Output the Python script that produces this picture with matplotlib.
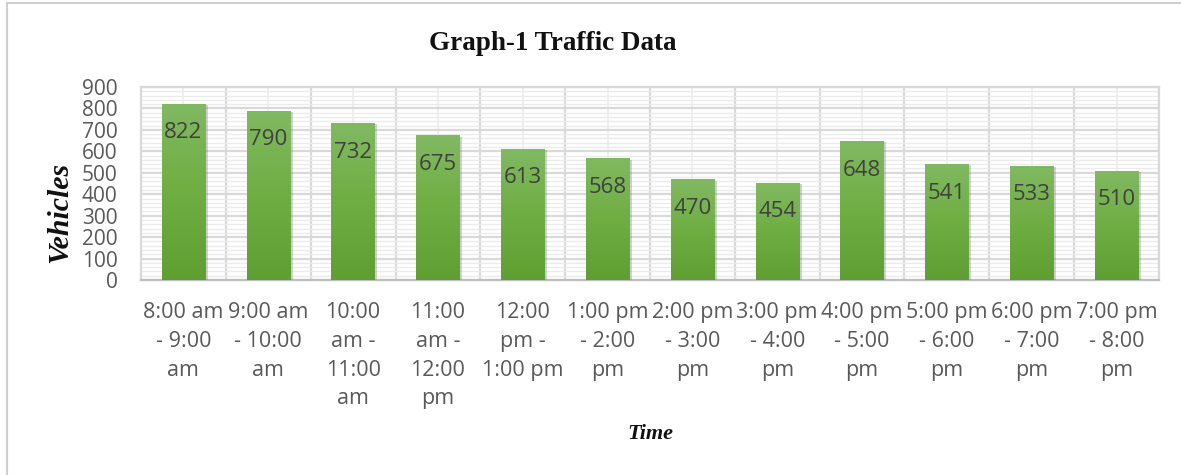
import matplotlib
matplotlib.use("Agg")
import matplotlib.pyplot as plt
import numpy as np
from matplotlib.lines import Line2D
from matplotlib.colors import LinearSegmentedColormap
import matplotlib.patheffects as pe

categories = ["8:00 am - 9:00 am", "9:00 am - 10:00 am", "10:00 am - 11:00 am",
              "11:00 am - 12:00 pm", "12:00 pm - 1:00 pm", "1:00 pm - 2:00 pm",
              "2:00 pm - 3:00 pm", "3:00 pm - 4:00 pm", "4:00 pm - 5:00 pm",
              "5:00 pm - 6:00 pm", "6:00 pm - 7:00 pm", "7:00 pm - 8:00 pm"]
tick_labels = ["8:00 am\n- 9:00\nam", "9:00 am\n- 10:00\nam", "10:00\nam -\n11:00\nam",
               "11:00\nam -\n12:00\npm", "12:00\npm -\n1:00 pm", "1:00 pm\n- 2:00\npm",
               "2:00 pm\n- 3:00\npm", "3:00 pm\n- 4:00\npm", "4:00 pm\n- 5:00\npm",
               "5:00 pm\n- 6:00\npm", "6:00 pm\n- 7:00\npm", "7:00 pm\n- 8:00\npm"]
vehicles = [822, 790, 732, 675, 613, 568, 470, 454, 648, 541, 533, 510]
y_ticks = [0, 100, 200, 300, 400, 500, 600, 700, 800, 900]

W, H = 1181, 475
fig = plt.figure(figsize=(W / 100, H / 100), dpi=100)
ax = fig.add_axes([141 / W, 1 - 280 / H, (1159 - 141) / W, (280 - 87) / H])

x = np.arange(len(categories))
cmap = LinearSegmentedColormap.from_list("g", ["#5f9e31", "#6fae42", "#81b962"])
bars = ax.bar(x, vehicles, width=0.51, color="#70b045", zorder=3,
              path_effects=[pe.SimplePatchShadow(offset=(2, -1), shadow_rgbFace="#808080", alpha=0.35), pe.Normal()])
grad = np.linspace(0, 1, 256).reshape(-1, 1)
for b in bars:
    x0, w, h = b.get_x(), b.get_width(), b.get_height()
    im = ax.imshow(grad, extent=[x0, x0 + w, 0, h], origin="lower", cmap=cmap,
                   aspect="auto", zorder=4)
    im.set_clip_path(b)

for xi, v in zip(x, vehicles):
    ax.annotate(str(v), (xi, v), xytext=(0, -21), textcoords="offset points",
                ha="center", va="center", fontsize=16, color="#404040",
                family="Open Sans", zorder=6)

ax.set_xlim(-0.5, len(categories) - 0.5)
ax.set_ylim(0, 900)
ax.set_yticks(y_ticks)
ax.set_yticks(np.arange(0, 901, 20), minor=True)
ax.set_xticks(x + 0.5, minor=False)
ax.set_xticklabels([])
ax.set_xticks(x, labels=tick_labels, minor=True)

ax.grid(True, which="major", axis="both", color="#d9d9d9", lw=1.6, zorder=0)
ax.grid(True, which="minor", axis="y", color="#ebebeb", lw=1.0, zorder=0)
ax.grid(True, which="minor", axis="x", color="#efefef", lw=1.4, zorder=0)
ax.set_axisbelow(True)

ax.tick_params(axis="both", which="both", length=0)
ax.tick_params(axis="y", labelsize=15, labelcolor="#595959", pad=17)
ax.tick_params(axis="x", which="minor", labelsize=15.5, labelcolor="#595959", pad=16)
for lab in ax.get_yticklabels() + ax.get_xticklabels(minor=True):
    lab.set_family("Open Sans")
for lab in ax.get_xticklabels(minor=True):
    lab.set_linespacing(1.48)
    lab.set_ha("center")
for s in ax.spines.values():
    s.set_color("#d9d9d9")
    s.set_linewidth(1.6)
ax.spines["bottom"].set_color("#bfbfbf")

fig.text(553 / W, 1 - 43 / H, "Graph-1 Traffic Data", ha="center", va="center",
         fontsize=19.5, fontweight="bold", family="Liberation Serif", color="#111111")
fig.text(60 / W, 1 - 212 / H, "Vehicles", ha="center", va="center", rotation=90,
         fontsize=21.5, fontweight="bold", fontstyle="italic", family="Liberation Serif",
         color="#111111")
fig.text(650 / W, 1 - 434 / H, "Time", ha="center", va="center",
         fontsize=16, fontweight="bold", fontstyle="italic", family="Liberation Serif",
         color="#111111")

fig.add_artist(Line2D([7 / W, 7 / W], [0, 1 - 3 / H], transform=fig.transFigure,
                      color="#d0d0d0", lw=1.5))
fig.add_artist(Line2D([7 / W, 1], [1 - 3 / H, 1 - 3 / H], transform=fig.transFigure,
                      color="#d0d0d0", lw=1.5))

fig.savefig("out.png", dpi=100)
